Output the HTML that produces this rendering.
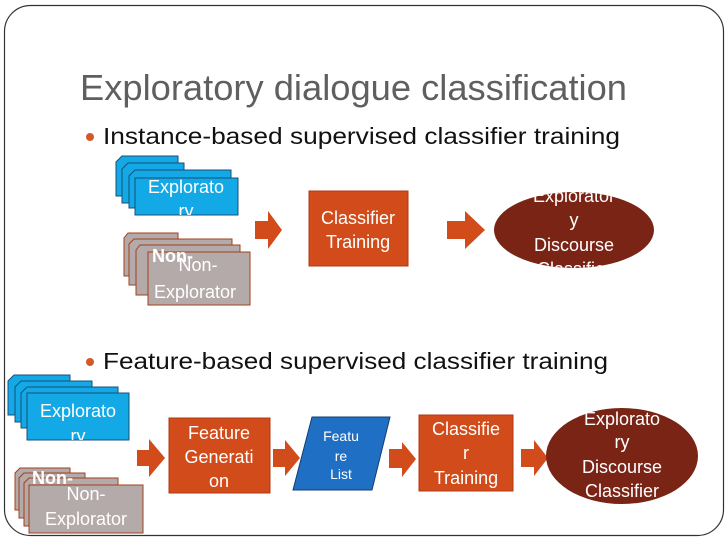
<!DOCTYPE html>
<html><head><meta charset="utf-8"><style>
html,body{margin:0;padding:0;background:#fff;}
svg{display:block;}
text{font-family:"Liberation Sans",Arial,sans-serif;}
</style></head><body>
<svg width="728" height="546" viewBox="0 0 728 546" xmlns="http://www.w3.org/2000/svg">
<defs>
<clipPath id="e1"><ellipse cx="574" cy="230" rx="80" ry="38"/></clipPath>
<clipPath id="e2"><ellipse cx="622" cy="456" rx="76" ry="48"/></clipPath>
<clipPath id="c1"><rect x="135" y="178" width="103" height="37"/></clipPath>
<clipPath id="c2"><rect x="148" y="252" width="102" height="53"/></clipPath>
<clipPath id="c3"><rect x="27" y="393" width="102" height="47"/></clipPath>
<clipPath id="c4"><rect x="29" y="485" width="114" height="48"/></clipPath>
</defs>
<rect x="4.5" y="5.5" width="719" height="530" rx="26" fill="#fff" stroke="#333" stroke-width="1.2"/>

<text x="80" y="100" font-size="36" fill="#5f5f5f" textLength="547" lengthAdjust="spacingAndGlyphs">Exploratory dialogue classification</text>
<circle cx="90" cy="137" r="4" fill="#d35a25"/>
<text x="103" y="144" font-size="23" fill="#111" textLength="517" lengthAdjust="spacingAndGlyphs">Instance-based supervised classifier training</text>
<circle cx="90" cy="362" r="4" fill="#d35a25"/>
<text x="103" y="369" font-size="23" fill="#111" textLength="505" lengthAdjust="spacingAndGlyphs">Feature-based supervised classifier training</text>

<g fill="#13a9e6" stroke="#1a4f7a" stroke-width="1">
<path d="M122 156 H178 V196 H116 V162 Z"/>
<path d="M128 163 H184 V203 H122 V169 Z"/>
<path d="M135 170 H231 V208 H129 V176 Z"/>
<rect x="135" y="178" width="103" height="37"/>
</g>
<g clip-path="url(#c1)" fill="#fff" font-size="18" text-anchor="middle">
<text x="186" y="193">Explorato</text><text x="186" y="217">ry</text></g>

<g fill="#b5aaaa" stroke="#a0401c" stroke-width="1">
<path d="M128 233 H178 V276 H124 V238 Z"/>
<path d="M134 239 H232 V285 H129 V244 Z"/>
<path d="M140 245 H240 V295 H136 V250 Z"/>
<rect x="148" y="252" width="102" height="53"/>
</g>
<text x="152" y="262" font-size="18" fill="#fff" font-weight="bold">Non-</text>
<g clip-path="url(#c2)" fill="#fff" font-size="18" text-anchor="middle">
<text x="198" y="271">Non-</text><text x="195" y="298">Explorator</text></g>

<g fill="#d24b1a">
<path d="M255 221 H268 V211 L282 230 L268 249 V239 H255 Z"/>
<path d="M447 221 H465 V211 L485 230 L465 249 V239 H447 Z"/>
</g>
<rect x="309" y="191" width="99" height="75" fill="#d24b1a" stroke="#b03a10"/>
<text x="358" y="224" font-size="18" fill="#fff" text-anchor="middle">Classifier</text>
<text x="358" y="248" font-size="18" fill="#fff" text-anchor="middle">Training</text>
<ellipse cx="574" cy="230" rx="80" ry="38" fill="#7a2416"/>
<g clip-path="url(#e1)" fill="#fff" font-size="18" text-anchor="middle">
<text x="574" y="202">Explorator</text><text x="574" y="226">y</text>
<text x="574" y="251">Discourse</text><text x="574" y="275">Classifier</text></g>

<g fill="#13a9e6" stroke="#1a4f7a" stroke-width="1">
<path d="M14 375 H70 V415 H8 V381 Z"/>
<path d="M21 381 H92 V422 H15 V387 Z"/>
<path d="M27 387 H118 V428 H21 V393 Z"/>
<rect x="27" y="393" width="102" height="47"/>
</g>
<g clip-path="url(#c3)" fill="#fff" font-size="18" text-anchor="middle">
<text x="78" y="417">Explorato</text><text x="78" y="442">ry</text></g>
<g fill="#b5aaaa" stroke="#a0401c" stroke-width="1">
<path d="M20 468 H70 V510 H15 V473 Z"/>
<path d="M24 473 H85 V518 H19 V478 Z"/>
<path d="M29 478 H118 V526 H24 V483 Z"/>
<rect x="29" y="485" width="114" height="48"/>
</g>
<text x="32" y="484" font-size="18" fill="#fff" font-weight="bold">Non-</text>
<g clip-path="url(#c4)" fill="#fff" font-size="18" text-anchor="middle">
<text x="86" y="500">Non-</text><text x="86" y="525">Explorator</text></g>

<g fill="#d24b1a">
<path d="M137 450 H149 V439 L165 458 L149 477 V466 H137 Z"/>
<path d="M273 449 H285 V440 L300 458 L285 476 V467 H273 Z"/>
<path d="M389 449 H402 V442 L416 459 L402 477 V468 H389 Z"/>
<path d="M521 449 H534 V440 L548 458 L534 476 V467 H521 Z"/>
</g>
<rect x="169" y="418" width="101" height="75" fill="#d24b1a" stroke="#b03a10"/>
<g fill="#fff" font-size="18" text-anchor="middle">
<text x="219" y="439">Feature</text><text x="219" y="463">Generati</text><text x="219" y="487">on</text></g>
<path d="M312 417 H390 L372 490 H293 Z" fill="#1f6fc4" stroke="#163d6e"/>
<g fill="#fff" font-size="14" text-anchor="middle">
<text x="341" y="441">Featu</text><text x="341" y="461">re</text><text x="341" y="479">List</text></g>
<rect x="419" y="415" width="94" height="76" fill="#d24b1a" stroke="#b03a10"/>
<g fill="#fff" font-size="18" text-anchor="middle">
<text x="466" y="435">Classifie</text><text x="466" y="459">r</text><text x="466" y="484">Training</text></g>
<ellipse cx="622" cy="456" rx="76" ry="48" fill="#7a2416"/>
<g clip-path="url(#e2)" fill="#fff" font-size="18" text-anchor="middle">
<text x="622" y="425">Explorato</text><text x="622" y="448">ry</text>
<text x="622" y="473">Discourse</text><text x="622" y="497">Classifier</text></g>
</svg>
</body></html>
